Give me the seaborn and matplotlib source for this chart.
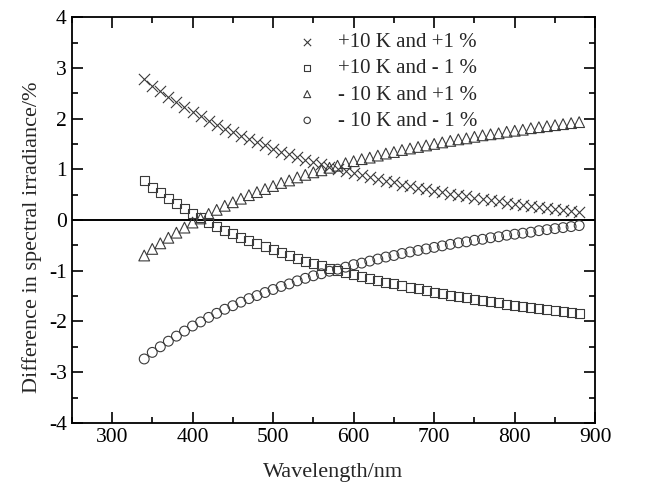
import numpy as np
import pandas as pd
import seaborn as sns
import matplotlib.pyplot as plt
from matplotlib.ticker import MultipleLocator

sns.set_style("ticks")
plt.rcParams['font.family'] = ['Liberation Serif', 'DejaVu Serif']
plt.rcParams['axes.unicode_minus'] = False

# wavelength grid (nm)
wavelength = list(range(340, 890, 10))

# +10 K and +1 %
plus_plus = [2.78, 2.65, 2.54, 2.43, 2.33, 2.23, 2.13, 2.05, 1.96, 1.88,
             1.80, 1.73, 1.66, 1.59, 1.53, 1.47, 1.41, 1.35, 1.30, 1.24,
             1.19, 1.14, 1.10, 1.05, 1.01, 0.97, 0.92, 0.89, 0.85, 0.81,
             0.77, 0.74, 0.70, 0.67, 0.64, 0.61, 0.58, 0.55, 0.52, 0.49,
             0.47, 0.44, 0.42, 0.39, 0.37, 0.34, 0.32, 0.30, 0.28, 0.25,
             0.23, 0.21, 0.19, 0.17, 0.15]
# +10 K and - 1 %
plus_minus = [0.78, 0.65, 0.54, 0.43, 0.33, 0.23, 0.13, 0.05, -0.04, -0.12,
              -0.20, -0.27, -0.34, -0.41, -0.47, -0.53, -0.59, -0.65, -0.70, -0.76,
              -0.81, -0.86, -0.90, -0.95, -0.99, -1.04, -1.08, -1.12, -1.15, -1.19,
              -1.23, -1.26, -1.30, -1.33, -1.36, -1.39, -1.42, -1.45, -1.48, -1.51,
              -1.53, -1.56, -1.59, -1.61, -1.63, -1.66, -1.68, -1.70, -1.73, -1.75,
              -1.77, -1.79, -1.81, -1.83, -1.85]
# - 10 K and +1 %
minus_plus = [-0.70, -0.57, -0.46, -0.35, -0.25, -0.15, -0.05, 0.03, 0.12, 0.20,
              0.28, 0.35, 0.42, 0.49, 0.55, 0.61, 0.67, 0.73, 0.78, 0.84,
              0.89, 0.94, 0.98, 1.03, 1.07, 1.12, 1.16, 1.20, 1.23, 1.27,
              1.31, 1.34, 1.38, 1.41, 1.44, 1.47, 1.50, 1.53, 1.56, 1.59,
              1.61, 1.64, 1.67, 1.69, 1.71, 1.74, 1.76, 1.78, 1.81, 1.83,
              1.85, 1.87, 1.89, 1.91, 1.93]
# - 10 K and - 1 %
minus_minus = [-2.74, -2.61, -2.50, -2.39, -2.29, -2.19, -2.09, -2.01, -1.92, -1.84,
               -1.76, -1.69, -1.62, -1.55, -1.49, -1.43, -1.37, -1.31, -1.26, -1.20,
               -1.15, -1.10, -1.06, -1.01, -0.97, -0.93, -0.88, -0.85, -0.81, -0.77,
               -0.73, -0.70, -0.66, -0.63, -0.60, -0.57, -0.54, -0.51, -0.48, -0.45,
               -0.43, -0.40, -0.38, -0.35, -0.33, -0.30, -0.28, -0.26, -0.24, -0.21,
               -0.19, -0.17, -0.15, -0.13, -0.11]

labels = ['+10 K and +1 %', '+10 K and - 1 %', '- 10 K and +1 %', '- 10 K and - 1 %']
series = [plus_plus, plus_minus, minus_plus, minus_minus]
markers = ['x', 's', '^', 'o']
sizes = [65, 42, 60, 50]

mc = '#3a3a3a'

fig = plt.figure(figsize=(6.52, 4.90), dpi=100)
ax = fig.add_axes([0.110, 0.137, 0.803, 0.828])

ax.axhline(0, color='black', lw=1.4, zorder=1)

for lab, vals, m, s in zip(labels, series, markers, sizes):
    df = pd.DataFrame({'wavelength': wavelength, 'diff': vals})
    if m == 'x':
        sns.scatterplot(data=df, x='wavelength', y='diff', marker=m, s=s,
                        color=mc, linewidth=0.8, label=lab, ax=ax, zorder=3)
    else:
        sns.scatterplot(data=df, x='wavelength', y='diff', marker=m, s=s,
                        facecolor='none', edgecolor=mc, linewidth=0.8,
                        label=lab, ax=ax, zorder=3)

ax.set_ylim(-4, 4)
ax.xaxis.set_minor_locator(MultipleLocator(50))
ax.yaxis.set_major_locator(MultipleLocator(1))
ax.yaxis.set_minor_locator(MultipleLocator(0.5))
ax.set_xticks(range(300, 901, 100))
ax.set_xlim(250, 900)

ax.tick_params(which='both', direction='in', top=True, right=True,
               width=1.2, labelsize=15.5, colors='black')
ax.tick_params(which='major', length=8)
ax.tick_params(which='minor', length=4.5)
for sp in ax.spines.values():
    sp.set_linewidth(1.3)
    sp.set_color('black')

ax.set_xlabel('Wavelength/nm', fontsize=16, labelpad=12)
ax.set_ylabel('Difference in spectral irradiance/%', fontsize=16)
ax.yaxis.set_label_coords(-0.056, 0.458)

leg = ax.legend(loc='upper left', bbox_to_anchor=(0.41, 0.993), frameon=False,
                fontsize=15, handlelength=0.8, handletextpad=1.1,
                labelspacing=0.32, borderaxespad=0.2, markerscale=0.65)

fig.savefig('out.png', dpi=100)
